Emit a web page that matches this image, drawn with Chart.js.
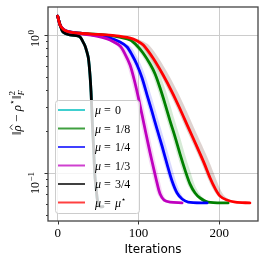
<!DOCTYPE html>
<html><head><meta charset="utf-8">
<script src="https://cdn.jsdelivr.net/npm/chart.js@4.4.0/dist/chart.umd.min.js"></script>
<style>html,body{margin:0;padding:0;background:#fff;}#wrap{width:266px;height:266px;}</style>
</head><body><div id="wrap"><canvas id="c" width="266" height="266"></canvas></div>
<script>
// ---- data ----
const seriesLabels = ['0', '1/8', '1/4', '1/3', '3/4', 'μ*'];
const seriesColors = ['#00bfbf', '#008000', '#0000ff', '#bf00bf', '#000000', '#ff0000'];
const bandColors = ['rgba(0,191,191,0.05)', 'rgba(0,128,0,0.16)', 'rgba(0,0,255,0.15)', 'rgba(191,0,191,0.15)', 'rgba(0,0,0,0.2)', 'rgba(120,70,60,0.24)'];
const xTicks = [0, 100, 200];
const yMajorTicks = [0.1, 1];
const yMinorTicks = [0.05, 0.06, 0.07, 0.08, 0.09, 0.2, 0.3, 0.4, 0.5, 0.6, 0.7, 0.8, 0.9];

// mu = 0 (hidden under mu = 3/4 in the reference)
const iterMu0 = [0, 3, 6.5, 15, 23, 27.6, 31, 34, 36, 38, 40, 41.3, 43, 44.5, 46, 48, 50, 53, 56];
const valMu0  = [1.37, 1.18, 1.05, 1.0, 0.99, 0.97, 0.9, 0.83, 0.76, 0.68, 0.513, 0.386, 0.223, 0.15, 0.097, 0.073, 0.06, 0.057, 0.057];
const loMu0   = [0, 3, 6.5, 15, 22.5, 27, 30.3, 33.2, 35.2, 37.2, 39.3, 40.6, 42.3, 43.8, 45.3, 47.3, 49.3, 52.5, 56];
const hiMu0   = [0, 3, 6.5, 15, 23.5, 28.5, 32, 35.2, 37.3, 39.3, 41.4, 42.8, 44.5, 46, 47.5, 49.5, 51.5, 54.5, 56];

// mu = 1/8
const iterMu18 = [0, 3, 7, 13, 28, 50, 70, 89.6, 97, 105.7, 114.4, 120.6, 126.8, 133, 139.2, 145.4, 151.5, 157.7, 163.9, 170.1, 176.3, 186.2, 211];
const valMu18  = [1.37, 1.18, 1.10, 1.06, 1.03, 1.01, 0.98, 0.92, 0.85, 0.741, 0.616, 0.522, 0.413, 0.316, 0.238, 0.182, 0.137, 0.105, 0.083, 0.0716, 0.0659, 0.0616, 0.0607];
const loMu18   = [0, 3, 7, 13, 28, 49, 68, 86.5, 93.5, 102, 110.7, 116.9, 123.1, 129.3, 135.5, 141.7, 147.8, 154, 160.5, 167, 173.5, 184, 211];
const hiMu18   = [0, 3, 7, 13, 28, 51, 72, 93, 102, 111.7, 120.4, 126.6, 132.8, 139, 145.2, 151.4, 157.5, 163.7, 169.4, 175, 180.5, 189, 211];

// mu = 1/4
const iterMu14 = [0, 3, 7, 13, 28, 45, 65, 77.2, 85.9, 92.1, 98.3, 104.5, 110.7, 116.9, 123, 129.2, 135.4, 141.6, 147.8, 154, 161.5, 185];
const valMu14  = [1.37, 1.18, 1.10, 1.06, 1.03, 1.0, 0.95, 0.89, 0.819, 0.716, 0.606, 0.488, 0.367, 0.277, 0.208, 0.157, 0.116, 0.0875, 0.0716, 0.0648, 0.0616, 0.0607];
const loMu14   = [0, 3, 7, 13, 28, 44, 63, 74, 82.4, 88.6, 94.8, 101, 107.2, 113.4, 119.5, 125.7, 132, 138.4, 145, 152, 160, 185];
const hiMu14   = [0, 3, 7, 13, 28, 46, 67, 80.5, 90.9, 97.1, 103.3, 109.5, 115.7, 121.9, 128, 134.2, 140.4, 146.3, 152, 157.5, 164, 185];

// mu = 1/3
const iterMu13 = [0, 3, 7, 13, 28, 45, 55, 64.8, 77.2, 83.4, 89.6, 94.5, 99.5, 104.5, 109.4, 114.4, 119.3, 123, 126.8, 131.7, 139.2, 154];
const valMu13  = [1.37, 1.18, 1.10, 1.06, 1.02, 0.99, 0.96, 0.92, 0.832, 0.728, 0.606, 0.48, 0.361, 0.263, 0.192, 0.14, 0.105, 0.0847, 0.0705, 0.0637, 0.0616, 0.0607];
const loMu13   = [0, 3, 7, 13, 28, 44, 53, 61.5, 73.5, 79.7, 85.9, 90.8, 95.8, 100.8, 105.7, 110.7, 115.6, 119.5, 123.5, 129, 137.5, 154];
const hiMu13   = [0, 3, 7, 13, 28, 46, 57, 67, 81.2, 87.4, 93.6, 98.5, 103.5, 108.5, 113.4, 118.4, 123.3, 127, 130.5, 135, 141.5, 154];

// mu = 3/4
const iterMu34 = [0, 3, 6.5, 15, 23, 27.6, 31, 34, 36, 38, 40, 41.3, 43, 44.5, 46, 48, 50, 53, 56];
const valMu34  = [1.37, 1.18, 1.05, 1.0, 0.99, 0.97, 0.9, 0.83, 0.76, 0.68, 0.513, 0.386, 0.223, 0.15, 0.097, 0.073, 0.06, 0.057, 0.057];
const loMu34   = [0, 3, 6.5, 15, 22.5, 27, 30.3, 33.2, 35.2, 37.2, 39.3, 40.6, 42.3, 43.8, 45.3, 47.3, 49.3, 52.5, 56];
const hiMu34   = [0, 3, 6.5, 15, 23.5, 28.5, 32, 35.2, 37.3, 39.3, 41.4, 42.8, 44.5, 46, 47.5, 49.5, 51.5, 54.5, 56];

// mu = mu*
const iterMuStar = [0, 3, 7, 13, 28, 50, 70, 90, 98, 106, 118, 130.5, 141.6, 151.5, 161.5, 171.4, 181.3, 188.7, 195, 201, 208.6, 220, 238];
const valMuStar  = [1.37, 1.18, 1.10, 1.06, 1.03, 1.01, 0.99, 0.95, 0.91, 0.846, 0.681, 0.513, 0.386, 0.291, 0.215, 0.160, 0.118, 0.092, 0.077, 0.068, 0.064, 0.0615, 0.0607];
const loMuStar   = [0, 3, 7, 13, 28, 49, 68, 87.5, 94.5, 102.5, 114.5, 127, 138, 148, 158, 168, 178, 185.5, 192, 198.5, 206.5, 219, 238];
const hiMuStar   = [0, 3, 7, 13, 28, 51, 72, 94, 104, 113, 125, 137.5, 148.6, 158.5, 168.5, 178.4, 188.3, 195.5, 201, 206.5, 213, 224, 238];

const series = [
  [iterMu0, valMu0, loMu0, hiMu0],
  [iterMu18, valMu18, loMu18, hiMu18],
  [iterMu14, valMu14, loMu14, hiMu14],
  [iterMu13, valMu13, loMu13, hiMu13],
  [iterMu34, valMu34, loMu34, hiMu34],
  [iterMuStar, valMuStar, loMuStar, hiMuStar]
];

const pts = (xs, ys) => xs.map((x, k) => ({x: x, y: ys[k]}));
const datasets = [];
const n = series.length;
const TENSION = 0.3;
series.forEach((s, i) => {
  const ord = 100 + (n - i) * 2;
  datasets.push({data: pts(s[3], s[1]), order: ord, borderWidth: 0, pointRadius: 0, fill: false, tension: TENSION, borderColor: 'rgba(0,0,0,0)'});
  datasets.push({data: pts(s[2], s[1]), order: ord - 1, borderWidth: 0, pointRadius: 0, fill: '-1', backgroundColor: bandColors[i], tension: TENSION, borderColor: 'rgba(0,0,0,0)'});
});
series.forEach((s, i) => {
  datasets.push({data: pts(s[0], s[1]), order: n - i, borderColor: seriesColors[i], borderWidth: 2.8, pointRadius: 0, fill: false, tension: TENSION, borderCapStyle: 'round', borderJoinStyle: 'round'});
});

const SERIF = "'Liberation Serif', 'DejaVu Serif', serif";
const overlay = {
  id: 'overlay',
  afterDraw(chart) {
    const ctx = chart.ctx, a = chart.chartArea;
    const xs = chart.scales.x, ys = chart.scales.y;
    ctx.save();
    // ticks
    ctx.strokeStyle = '#333'; ctx.lineWidth = 1;
    ctx.beginPath();
    yMajorTicks.forEach(v => { const y = Math.round(ys.getPixelForValue(v)) + 0.5; ctx.moveTo(a.left, y); ctx.lineTo(a.left - 3.5, y); });
    yMinorTicks.forEach(v => { const y = Math.round(ys.getPixelForValue(v)) + 0.5; ctx.moveTo(a.left, y); ctx.lineTo(a.left - 2, y); });
    xTicks.forEach(v => { const x = Math.round(xs.getPixelForValue(v)) + 0.5; ctx.moveTo(x, a.bottom); ctx.lineTo(x, a.bottom + 3.5); });
    ctx.stroke();
    // frame
    ctx.strokeStyle = '#444'; ctx.lineWidth = 1.3;
    ctx.strokeRect(a.left, a.top, a.right - a.left, a.bottom - a.top);

    // y tick labels (rotated)
    ctx.fillStyle = '#000'; ctx.textBaseline = 'alphabetic';
    const yLab = [{v: 1, base: '10', sup: '0', off: 12}, {v: 0.1, base: '10', sup: '−1', off: 21}];
    yLab.forEach(l => {
      const py = ys.getPixelForValue(l.v);
      ctx.save();
      ctx.translate(39, py + l.off);
      ctx.rotate(-Math.PI / 2);
      ctx.font = '12px ' + SERIF;
      ctx.fillText(l.base, 0, 0);
      const w = ctx.measureText(l.base).width;
      ctx.font = '9px ' + SERIF;
      ctx.fillText(l.sup, w + 0.5, -5);
      ctx.restore();
    });

    // y axis title
    ctx.save();
    ctx.translate(21, 113);
    ctx.rotate(-Math.PI / 2);
    const F = '13px ' + SERIF, FI = 'italic 13px ' + SERIF, FS = '9px ' + SERIF, FSI = 'italic 9px ' + SERIF;
    const pieces = [
      {t: '‖', f: F}, {t: 'ρ', f: FI, hat: true}, {t: ' − ', f: F}, {t: 'ρ', f: FI},
      {t: '⋆', f: FS, dy: -6}, {t: '‖', f: F}, {t: '2', f: FS, dy: -6, stackWith: 'F'}
    ];
    let total = 0;
    pieces.forEach(p => { ctx.font = p.f; total += ctx.measureText(p.t).width; });
    let x = -total / 2;
    pieces.forEach(p => {
      ctx.font = p.f;
      ctx.fillText(p.t, x, p.dy || 0);
      const w = ctx.measureText(p.t).width;
      if (p.hat) {
        ctx.save(); ctx.strokeStyle = '#000'; ctx.lineWidth = 0.8; ctx.beginPath();
        ctx.moveTo(x + 1.5, -8.5); ctx.lineTo(x + w / 2 + 1, -11); ctx.lineTo(x + w + 0.5, -8.5); ctx.stroke(); ctx.restore();
      }
      if (p.stackWith) { ctx.font = FSI; ctx.fillText(p.stackWith, x, 3); }
      x += w;
    });
    ctx.restore();

    // legend
    const L = 55, T = 100, R = 139, B = 213;
    ctx.beginPath();
    ctx.roundRect(L + 0.5, T + 0.5, R - L, B - T, 3);
    ctx.fillStyle = 'rgba(255,255,255,0.8)'; ctx.fill();
    ctx.strokeStyle = '#cccccc'; ctx.lineWidth = 1; ctx.stroke();
    seriesLabels.forEach((lab, i) => {
      const y = 110 + i * 18.5;
      ctx.strokeStyle = seriesColors[i]; ctx.globalAlpha = 0.75; ctx.lineWidth = 2;
      ctx.beginPath(); ctx.moveTo(58, y); ctx.lineTo(85, y); ctx.stroke();
      ctx.globalAlpha = 1;
      ctx.fillStyle = '#000';
      const by = y + 4;
      ctx.font = 'italic 12px ' + SERIF; ctx.fillText('μ', 95, by);
      ctx.font = '12px ' + SERIF; ctx.fillText('=', 104, by);
      if (lab === 'μ*') {
        ctx.font = 'italic 12px ' + SERIF; ctx.fillText('μ', 115, by);
        const w = ctx.measureText('μ').width;
        ctx.font = '8px ' + SERIF; ctx.fillText('⋆', 115 + w, by - 5);
      } else {
        ctx.font = '12px ' + SERIF; ctx.fillText(lab, 115, by);
      }
    });
    ctx.restore();
  }
};

new Chart(document.getElementById('c'), {
  type: 'line',
  data: {datasets: datasets},
  options: {
    responsive: false, animation: false, devicePixelRatio: 1,
    layout: {padding: {top: 7, right: 8, left: 0, bottom: 0}},
    plugins: {legend: {display: false}, tooltip: {enabled: false}},
    scales: {
      x: {
        type: 'linear', min: -12, max: 248,
        afterBuildTicks: s => { s.ticks = xTicks.map(v => ({value: v})); },
        afterFit: s => { s.height = 45; },
        grid: {color: '#cccccc', lineWidth: 1, drawTicks: false},
        border: {display: false},
        ticks: {font: {family: SERIF, size: 13}, color: '#000', padding: 5, maxRotation: 0, autoSkip: false},
        title: {display: true, text: 'Iterations', font: {family: "'DejaVu Sans'", size: 12}, color: '#000', padding: {top: 0, bottom: 9}}
      },
      y: {
        type: 'logarithmic', min: 0.0449, max: 1.596,
        afterBuildTicks: s => { s.ticks = yMajorTicks.map(v => ({value: v})); },
        afterFit: s => { s.width = 48; },
        grid: {color: '#cccccc', lineWidth: 1, drawTicks: false},
        border: {display: false},
        ticks: {display: false}
      }
    }
  },
  plugins: [overlay]
});
</script>
</body></html>
